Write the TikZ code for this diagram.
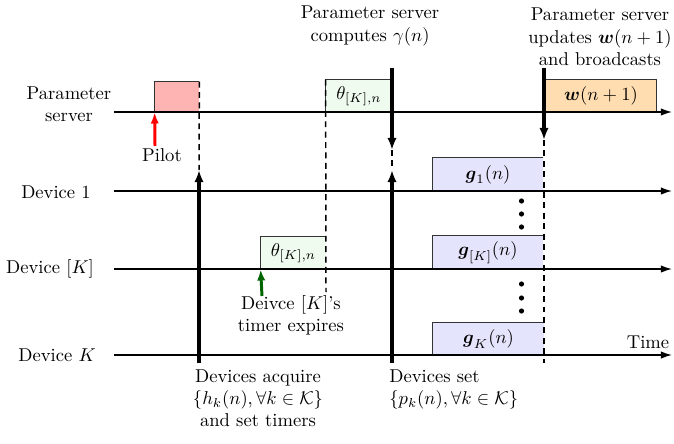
\documentclass[tikz,border=0pt]{standalone}
\usepackage{amsmath}
\usetikzlibrary{arrows.meta}
\newlength\px
\setlength\px{0.538pt}
\definecolor{pilotfill}{RGB}{255,180,180}
\definecolor{thetafill}{RGB}{240,251,240}
\definecolor{gfill}{RGB}{228,228,252}
\definecolor{wfill}{RGB}{255,221,176}
\definecolor{darkgreen}{RGB}{0,100,0}
\tikzset{
  axis/.style={line width=0.75pt,-{Latex[length=6pt,width=4pt]}},
  bigarrow/.style={line width=2pt,-{Latex[length=6.5pt,width=5pt]}},
  dashline/.style={line width=0.8pt,dash pattern=on 3.2pt off 2.4pt},
  slotbox/.style={draw=none,inner sep=0pt},
  lbl/.style={align=center,inner sep=0pt},
  side/.style={line width=0.6pt,draw=black!80}
}
\begin{document}
\begin{tikzpicture}[x=\px,y=-\px]
\useasboundingbox (0,0) rectangle (674,443);
% axis coordinates
\coordinate (s0) at (114,112); \coordinate (s1) at (672,112);
\coordinate (d10) at (114,191); \coordinate (d11) at (672,191);
\coordinate (dk0) at (114,269); \coordinate (dk1) at (672,269);
\coordinate (dK0) at (114,355); \coordinate (dK1) at (672,355);
% boxes
\node[slotbox,fill=pilotfill,minimum width=44\px,minimum height=30\px] (pilot) at (177,97) {};
\node[slotbox,fill=thetafill,minimum width=66\px,minimum height=32\px] (ths) at (359,96) {$\theta_{[K],n}$};
\node[slotbox,fill=thetafill,minimum width=65\px,minimum height=32\px] (thk) at (293.5,253) {$\theta_{[K],n}$};
\node[slotbox,fill=gfill,minimum width=110\px,minimum height=33\px] (g1) at (488,174.5) {$\boldsymbol{g}_1(n)$};
\node[slotbox,fill=gfill,minimum width=110\px,minimum height=33\px] (gk) at (488,252.5) {$\boldsymbol{g}_{[K]}(n)$};
\node[slotbox,fill=gfill,minimum width=111\px,minimum height=32\px] (gK) at (488.5,339) {$\boldsymbol{g}_K(n)$};
\node[slotbox,fill=wfill,minimum width=110\px,minimum height=32\px] (w) at (601,96) {$\boldsymbol{w}(n+1)$};
% box sides
\foreach \b in {pilot,ths,thk,g1,gk,gK}{
  \draw[side] (\b.north east) -- (\b.north west) -- (\b.south west) -- (\b.south east);
}
\draw[side] (w.south west) -- (w.north west) -- (w.north east) -- (w.south east) -- (w.south west);
% axes
\draw[axis] (s0) -- (s1);
\draw[axis] (d10) -- (d11);
\draw[axis] (dk0) -- (dk1);
\draw[axis] (dK0) -- (dK1);
% dashed lines
\coordinate (pd) at (199,170);
\draw[dashline] (pilot.north east) -- (pd);
\coordinate (td) at (326,292);
\draw[dashline] (ths.north west) -- (td);
\coordinate (ga) at (392,150); \coordinate (gb) at (392,170);
\draw[dashline] (ga) -- (gb);
\coordinate (wa) at (544,140); \coordinate (wb) at (544,363);
\draw[dashline] (wa) -- (wb);
% thick arrows
\coordinate (a1) at (199,363);
\draw[bigarrow] (a1) -- (pd);
\coordinate (g0) at (392,68); \coordinate (g3) at (392,363);
\draw[bigarrow] (g0) -- (ga);
\draw[bigarrow] (g3) -- (gb);
\coordinate (w0) at (544,68);
\draw[bigarrow] (w0) -- (wa);
% colored arrows
\coordinate (pl) at (155,146);
\draw[line width=1.6pt,red,-{Latex[length=6pt,width=4.5pt]}] (pl) -- (pilot.south west);
\coordinate (tk) at (262,296);
\draw[line width=1.6pt,darkgreen,-{Latex[length=6pt,width=4.5pt]}] (tk) -- (thk.south west);
% dots
\foreach \y [count=\i] in {201,214,227,284,298,311}{
  \fill (521.5,\y) circle (1.4pt) coordinate (dot\i);
}
% labels
\node[lbl] (lps) at (69,104) {Parameter\\server};
\node[lbl] (ld1) at (56,192) {Device 1};
\node[lbl] (ldk) at (50,269) {Device $[K]$};
\node[lbl] (ldK) at (57,355) {Device $K$};
\node[lbl] (lpilot) at (162,155) {Pilot};
\node[lbl,anchor=north] (lacq) at (258,369) {Devices acquire\\$\{h_k(n),\forall k\in\mathcal{K}\}$\\and set timers};
\node[lbl] (ltimer) at (291,315) {Deivce $[K]$'s\\timer expires};
\node[lbl] (lcomp) at (370,26) {Parameter server\\computes $\gamma(n)$};
\node[lbl] (lupd) at (600,37) {Parameter server\\updates $\boldsymbol{w}(n+1)$\\and broadcasts};
\node[lbl] (ltime) at (648,342) {Time};
\node[lbl,align=left,anchor=north west] (lset) at (389,369) {Devices set\\$\{p_k(n),\forall k\in\mathcal{K}\}$};
\end{tikzpicture}
\end{document}
